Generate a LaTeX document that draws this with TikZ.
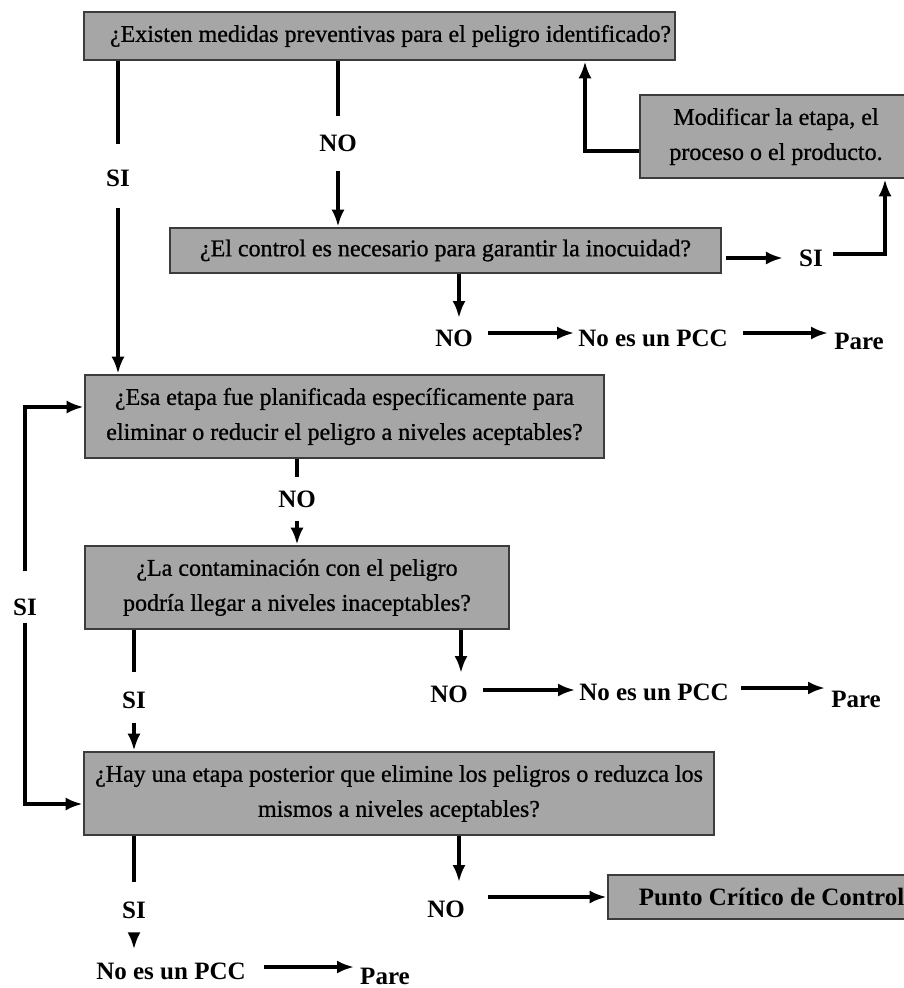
\documentclass[tikz,border=0pt]{standalone}
\usepackage{fontspec}
\setmainfont{Liberation Serif}
\newfontfamily\boxfont{Liberation Serif}[FakeBold=0.8]
\usetikzlibrary{arrows.meta,calc}
\definecolor{boxfill}{RGB}{166,166,166}
\definecolor{boxline}{RGB}{60,60,60}
\begin{document}
\begin{tikzpicture}[x=1pt,y=-1pt,
  box/.style={draw=boxline, fill=boxfill, line width=2.6pt, inner sep=0pt, align=center,
              font=\boxfont\fontsize{24}{35}\selectfont},
  lbl/.style={font=\bfseries\fontsize{25}{30}\selectfont, inner sep=0pt},
  conn/.style={line width=3.4pt, draw=black},
  arr/.style={conn, -{Latex[length=17pt,width=13pt]}}]
\useasboundingbox (0,0) rectangle (904,988);
\fill[white] (0,0) rectangle (904,988);
\clip (0,0) rectangle (904,988);

% boxes
\node[box, minimum width=591pt, minimum height=48pt] (b1) at (379.5,36)
  {\hspace*{22pt}¿Existen medidas preventivas para el peligro identificado?};
\node[box, minimum width=272pt, minimum height=83pt] (bmod) at (776,136.5)
  {Modificar la etapa, el\\proceso o el producto.};
\node[box, minimum width=551pt, minimum height=45pt] (b2) at (445.5,250.5)
  {¿El control es necesario para garantir la inocuidad?};
\node[box, minimum width=519pt, minimum height=83pt] (b3) at (344.5,416.5)
  {¿Esa etapa fue planificada específicamente para\\eliminar o reducir el peligro a niveles aceptables?};
\node[box, minimum width=424pt, minimum height=83pt] (b4) at (297,587.5)
  {¿La contaminación con el peligro\\podría llegar a niveles inaceptables?};
\node[box, minimum width=630pt, minimum height=83pt] (b5) at (399,793.5)
  {¿Hay una etapa posterior que elimine los peligros o reduzca los\\mismos a niveles aceptables?};
\node[box, minimum width=327pt, minimum height=44pt, font=\bfseries\fontsize{25}{30}\selectfont] (bpcc) at (771.5,897)
  {Punto Crítico de Control};

% labels
\node[lbl] (si1) at (118,178) {SI};
\node[lbl] (no1) at (338,143) {NO};
\node[lbl] (si2) at (811,258) {SI};
\node[lbl] (no2) at (454,338) {NO};
\node[lbl] (npcc1) at (653,338) {No es un PCC};
\node[lbl] (pare1) at (859,341) {Pare};
\node[lbl] (no3) at (297,499) {NO};
\node[lbl] (si3) at (25,607) {SI};
\node[lbl] (si4) at (134,700) {SI};
\node[lbl] (no4) at (449,694) {NO};
\node[lbl] (npcc2) at (654,692) {No es un PCC};
\node[lbl] (pare2) at (856,699) {Pare};
\node[lbl] (si5) at (134,910) {SI};
\node[lbl] (no5) at (446,909) {NO};
\node[lbl] (npcc3) at (171,971) {No es un PCC};
\node[lbl] (pare3) at (385,976) {Pare};

% helper coordinates
\coordinate (kmod) at (585,151);
\coordinate (ksi) at (885,254);
\coordinate (kno2) at (459,318);
\coordinate (kno4) at (461,673);
\coordinate (kno5) at (459,882);

% connectors
\draw[conn, shorten >=25pt] (b1.south -| si1) -- (si1.north);
\draw[arr, shorten <=21pt] (si1.south) -- (b3.north -| si1);
\draw[conn, shorten >=18pt] (b1.south -| no1) -- (no1.north);
\draw[arr, shorten <=19pt] (no1.south) -- (b2.north -| no1);

\draw[arr, shorten <=4pt, shorten >=16pt] (b2.east |- si2) -- (si2.west);
\draw[arr, shorten <=10pt] (si2.east |- ksi) -| (bmod.south -| ksi);
\draw[arr] (bmod.west |- kmod) -| (b1.south -| kmod);

\draw[arr] (b2.south -| kno2) -- (kno2);
\draw[arr, shorten <=15pt, shorten >=4pt] ([yshift=5pt]no2.east) -- ([yshift=5pt]no2.east -| npcc1.west);
\draw[arr, shorten <=15pt, shorten >=6pt] ([yshift=5pt]npcc1.east) -- ([yshift=5pt]npcc1.east -| pare1.west);

\draw[conn, shorten >=13pt] (b3.south -| no3) -- (no3.north);
\draw[arr, shorten <=13pt] (no3.south) -- (b4.north -| no3);

\draw[arr, shorten <=27pt] (si3.north) |- ([yshift=9.5pt]b3.west);
\draw[arr, shorten <=7pt] (si3.south) |- ([yshift=-10.5pt]b5.west);

\draw[conn, shorten >=19pt] (b4.south -| si4) -- (si4.north);
\draw[arr, shorten <=14pt] (si4.south) -- (b5.north -| si4);
\draw[arr] (b4.south -| kno4) -- (kno4);
\draw[arr, shorten <=15pt, shorten >=4pt] ([yshift=4pt]no4.east) -- ([yshift=4pt]no4.east -| npcc2.west);
\draw[arr, shorten <=12pt, shorten >=6pt] ([yshift=4pt]npcc2.east) -- ([yshift=4pt]npcc2.east -| pare2.west);

\draw[conn, shorten >=19pt] (b5.south -| si5) -- (si5.north);
\draw[arr, shorten <=18pt, shorten >=13pt] (si5.south) -- (si5.south |- npcc3.north);
\draw[arr] (b5.south -| kno5) -- (kno5);
\draw[arr, shorten <=23pt] (no5.east |- bpcc.west) -- (bpcc.west);
\draw[arr, shorten <=18pt, shorten >=6pt] ([yshift=4pt]npcc3.east) -- ([yshift=4pt]npcc3.east -| pare3.west);
\end{tikzpicture}
\end{document}
